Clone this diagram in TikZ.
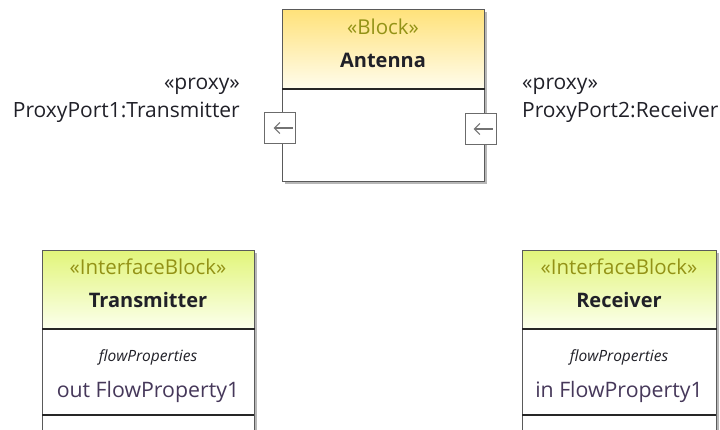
\documentclass[tikz,border=0pt]{standalone}
\usepackage{fontspec}
\setmainfont{Open Sans}
\usetikzlibrary{shadows,arrows.meta}
\definecolor{bordc}{HTML}{5A5A5A}
\definecolor{stereoc}{HTML}{939216}
\definecolor{textc}{HTML}{202028}
\definecolor{propc}{HTML}{46385A}
\definecolor{blktop}{HTML}{FFE27A}
\definecolor{blkbot}{HTML}{FFFCEC}
\definecolor{iftop}{HTML}{E2F57A}
\definecolor{ifbot}{HTML}{FBFFEC}
\tikzset{
  outline/.style={draw=bordc, line width=1pt, fill=white,
    drop shadow={shadow xshift=2.5pt, shadow yshift=-2.5pt, fill=black!40, opacity=0.7}},
  hdrblock/.style={draw=bordc, line width=1pt, top color=blktop, bottom color=blkbot, anchor=north west, inner sep=0pt},
  hdrif/.style={draw=bordc, line width=1pt, top color=iftop, bottom color=ifbot, anchor=north west, inner sep=0pt},
  divider/.style={draw=black!85, line width=1.3pt},
  stereo/.style={text=stereoc, font=\fontsize{20.5}{24}\selectfont, inner sep=0pt, anchor=base},
  title/.style={text=textc, font=\fontsize{20}{24}\selectfont\bfseries, inner sep=0pt, anchor=base},
  lbl/.style={text=textc, font=\fontsize{21}{25}\selectfont, inner sep=0pt},
  fp/.style={text=textc, font=\fontsize{15.5}{18}\selectfont\itshape, inner sep=0pt, anchor=base},
  prop/.style={text=propc, font=\fontsize{21.3}{25}\selectfont, inner sep=0pt, anchor=base},
  portbox/.style={draw=bordc!90, line width=1pt, fill=white, minimum size=31pt, inner sep=0pt},
  portarrow/.style={draw=bordc!85, line width=1.2pt, -{Straight Barb[length=5.5pt,width=11pt]}},
}
\begin{document}
\begin{tikzpicture}[x=1pt,y=-1pt]
\useasboundingbox (0,0) rectangle (720,430);
\begin{scope}
\clip (0,0) rectangle (720,430);
% Antenna block
\node[outline, anchor=north west, minimum width=202pt, minimum height=172pt, inner sep=0pt] (antO) at (282,9) {};
\node[hdrblock, minimum width=202pt, minimum height=79pt] (antH) at (282,9) {};
\draw[divider] (antH.south west) -- (antH.south east);
\node[stereo] (antS) at (383,35) {«Block»};
\node[title] (antT) at (383,68) {Antenna};
% ports
\node[portbox] (p1) at (280,128) {};
\node[portbox] (p2) at (481,129) {};
\draw[portarrow] ([xshift=12.5pt]p1.center) -- ([xshift=-6.5pt]p1.center);
\draw[portarrow] ([xshift=11.5pt]p2.center) -- ([xshift=-7.5pt]p2.center);
% port labels
\node[lbl, anchor=base east] (l1s) at (240,90) {«proxy»};
\node[lbl, anchor=base east] (l1n) at (240,118) {ProxyPort1:Transmitter};
\node[lbl, anchor=base west] (l2s) at (522,90) {«proxy»};
\node[lbl, anchor=base west] (l2n) at (522,118) {ProxyPort2:Receiver};
% Transmitter
\node[outline, anchor=north west, minimum width=212pt, minimum height=200pt, inner sep=0pt] (trO) at (42,250) {};
\node[hdrif, minimum width=212pt, minimum height=78pt] (trH) at (42,250) {};
\draw[divider] (trH.south west) -- (trH.south east);
\draw[divider] (42,415) -- (254,415);
\node[stereo] (trS) at (148,275) {«InterfaceBlock»};
\node[title] (trT) at (148,308) {Transmitter};
\node[fp] (trF) at (148,361) {flowProperties};
\node[prop] (trP) at (148,397) {out FlowProperty1};
% Receiver
\node[outline, anchor=north west, minimum width=194pt, minimum height=200pt, inner sep=0pt] (rcO) at (522,250) {};
\node[hdrif, minimum width=194pt, minimum height=78pt] (rcH) at (522,250) {};
\draw[divider] (rcH.south west) -- (rcH.south east);
\draw[divider] (522,415) -- (716,415);
\node[stereo] (rcS) at (619,275) {«InterfaceBlock»};
\node[title] (rcT) at (619,308) {Receiver};
\node[fp] (rcF) at (619,361) {flowProperties};
\node[prop] (rcP) at (619,397) {in FlowProperty1};
\end{scope}
\end{tikzpicture}
\end{document}
